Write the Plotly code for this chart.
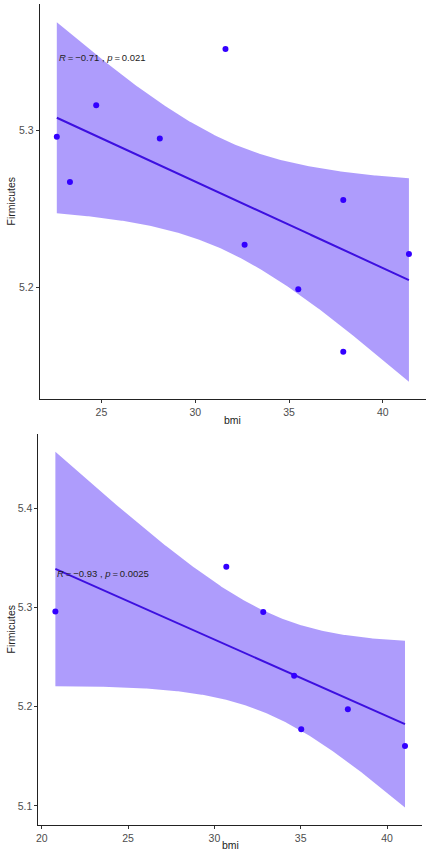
import numpy as np
import plotly.graph_objects as go

# ---- data ----
bmi_a = [22.62, 23.32, 24.72, 28.11, 31.61, 32.63, 35.49, 37.89, 37.89, 41.39]
firm_a = [5.2962, 5.2672, 5.3162, 5.2951, 5.3522, 5.2272, 5.1987, 5.2557, 5.1589, 5.2213]
label_a = "<i>R</i>\u2009=\u2009−0.71 , <i>p</i>\u2009=\u20090.021"

bmi_b = [20.79, 30.69, 32.83, 34.62, 35.03, 37.73, 41.04]
firm_b = [5.296, 5.341, 5.2954, 5.2313, 5.1772, 5.1974, 5.1604]
label_b = "<i>R</i>\u2009=\u2009−0.93 , <i>p</i>\u2009=\u20090.0025"

xticks_a = [25, 30, 35, 40]
yticks_a = [5.2, 5.3]
xticks_b = [20, 25, 30, 35, 40]
yticks_b = [5.1, 5.2, 5.3, 5.4]

t975 = {8: 2.306, 5: 2.571}

FILL = "rgba(120,90,250,0.6)"
LINE = "#3d10e0"
PT = "#3300ff"

W, H = 428, 853


def fit_band(x, y):
    x = np.asarray(x, float)
    y = np.asarray(y, float)
    n = len(x)
    b1, b0 = np.polyfit(x, y, 1)
    resid = y - (b0 + b1 * x)
    s = np.sqrt(np.sum(resid ** 2) / (n - 2))
    xm = x.mean()
    sxx = np.sum((x - xm) ** 2)
    xs = np.linspace(x.min(), x.max(), 300)
    yh = b0 + b1 * xs
    se = s * np.sqrt(1 / n + (xs - xm) ** 2 / sxx)
    t = t975[n - 2]
    return xs, yh, yh - t * se, yh + t * se


fig = go.Figure()

panels = [
    (bmi_a, firm_a, label_a, "x", "y", 5.347),
    (bmi_b, firm_b, label_b, "x2", "y2", 5.334),
]
for bx, fy, lab, xa, ya, ly in panels:
    xs, yh, lo, hi = fit_band(bx, fy)
    fig.add_trace(go.Scatter(
        x=np.concatenate([xs, xs[::-1]]), y=np.concatenate([hi, lo[::-1]]),
        fill="toself", fillcolor=FILL, line=dict(width=0), mode="lines",
        hoverinfo="skip", showlegend=False, xaxis=xa, yaxis=ya))
    fig.add_trace(go.Scatter(x=xs, y=yh, mode="lines",
                             line=dict(color=LINE, width=2), showlegend=False,
                             xaxis=xa, yaxis=ya))
    fig.add_trace(go.Scatter(x=bx, y=fy, mode="markers",
                             marker=dict(color=PT, size=6), showlegend=False,
                             xaxis=xa, yaxis=ya))
    fig.add_annotation(x=min(bx), y=ly,
                       xref=xa, yref=ya, text=lab, showarrow=False,
                       xanchor="left", yanchor="middle",
                       font=dict(size=9.5, color="#222", family="Liberation Sans, Arial"))

common = dict(showgrid=False, zeroline=False, showline=True, linecolor="#222",
              linewidth=1.1, ticks="outside", ticklen=3, tickwidth=1,
              tickcolor="#333", tickfont=dict(size=10.5, color="#4d4d4d",
                                              family="Liberation Sans, Arial"))

dom_a_x = [37 / W, 426 / W]
dom_a_y = [1 - 399 / H, 1 - 4 / H]
dom_b_x = [35.7 / W, 421.7 / W]
dom_b_y = [1 - 825 / H, 1 - 434 / H]

fig.update_layout(
    width=W, height=H, margin=dict(l=0, r=0, t=0, b=0),
    plot_bgcolor="white", paper_bgcolor="white",
    xaxis=dict(domain=dom_a_x, range=[21.71, 42.3], tickvals=xticks_a, anchor="y", **common),
    yaxis=dict(domain=dom_a_y, range=[5.1287, 5.3809], tickvals=yticks_a, anchor="x", **common),
    xaxis2=dict(domain=dom_b_x, range=[19.81, 42.01], tickvals=xticks_b, anchor="y2", **common),
    yaxis2=dict(domain=dom_b_y, range=[5.0808, 5.4749], tickvals=yticks_b, anchor="x2", **common),
)

tfont = dict(size=10.5, color="#222", family="Liberation Sans, Arial")
for dx, dy, ybmi in [(dom_a_x, dom_a_y, 420), (dom_b_x, dom_b_y, 845)]:
    fig.add_annotation(x=(dx[0] + dx[1]) / 2, y=1 - ybmi / H, xref="paper", yref="paper",
                       text="bmi", showarrow=False, font=tfont,
                       xanchor="center", yanchor="middle")
    fig.add_annotation(x=8 / W, y=(dy[0] + dy[1]) / 2, xref="paper", yref="paper",
                       text="Firmicutes", showarrow=False, font=tfont, textangle=-90,
                       xanchor="center", yanchor="middle")

fig.write_html("out.html")
